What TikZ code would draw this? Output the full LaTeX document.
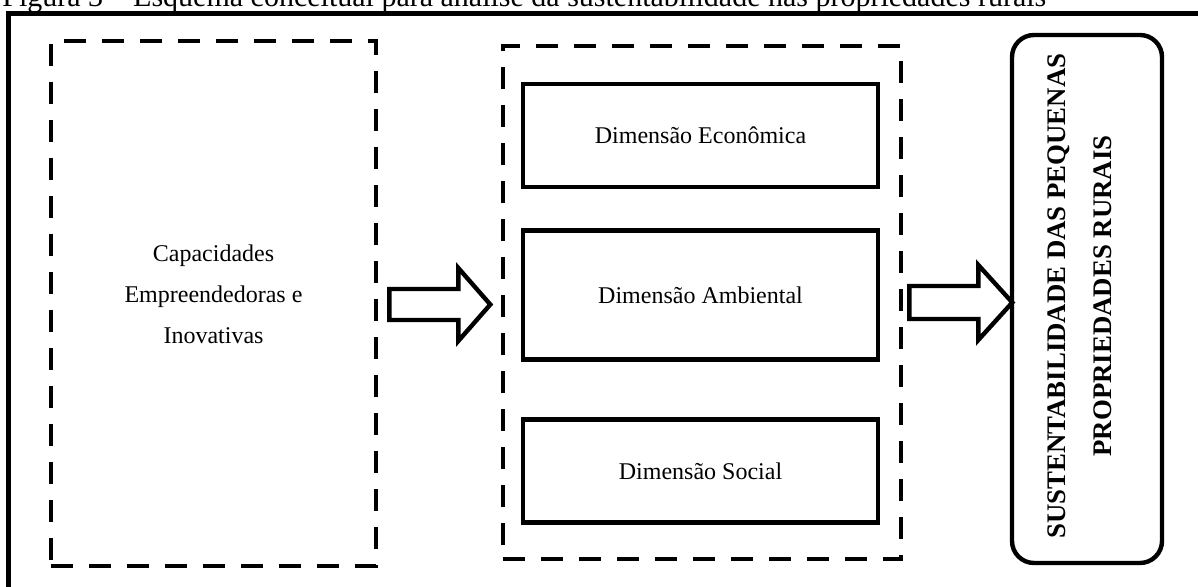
\documentclass[tikz,border=0pt]{standalone}
\usepackage{fontspec}
\setmainfont{Liberation Serif}
\usetikzlibrary{positioning,calc}

\begin{document}
\begin{tikzpicture}[
  x=0.5pt, y=-0.5pt,
  font=\fontsize{12}{20.5}\selectfont,
  frame/.style={line width=2.2pt},
  group/.style={draw, dash pattern=on 11pt off 8pt, line width=2.3pt, inner sep=0pt},
  dimbox/.style={draw, line width=2.2pt, minimum width=177.5pt, minimum height=51.5pt,
                 inner sep=0pt},
  sustbox/.style={draw, rounded corners=11pt, line width=2.2pt, minimum width=75pt,
                  minimum height=264pt, inner sep=0pt},
  blockarr/.style={draw, line width=2.2pt, line join=miter, fill=white},
  node distance=19.5pt]

\useasboundingbox (0,0) rectangle (1198,587);

% ---- caption (cut at the top) and frame ----
\node[anchor=base west, inner sep=0pt, font=\fontsize{15}{17}\selectfont] (titulo) at (2,6.5)
  {Figura 3 – Esquema conceitual para análise da sustentabilidade nas propriedades rurais};
\draw[frame] (8.5,587) -- (8.5,13.5) -- (1198,13.5);

% ---- left: capacities ----
\node[group, minimum width=162.5pt, minimum height=262.5pt] (capac) at (213.5,303.5) {};
\node[align=center] (capactxt) at (213.5,294) {Capacidades\\Empreendedoras e\\Inovativas};

% ---- middle: dimensions ----
\node[group, minimum width=199pt, minimum height=256.5pt] (dims) at (702,302.5) {};
\node[dimbox] (eco) at (700.5,135.5) {Dimensão Econômica};
\node[dimbox, minimum height=64.5pt, below=of eco] (amb) {Dimensão Ambiental};
\node[dimbox] (soc) at (700.5,471) {Dimensão Social};

% ---- right: result ----
\node[sustbox] (sust) at (1087,299) {};
\node[rotate=90, align=center, font=\bfseries\fontsize{13.4}{23}\selectfont] (susttxt)
  at ($(sust.center)+(-7,-3)$) {SUSTENTABILIDADE DAS PEQUENAS\\PROPRIEDADES RURAIS};

% ---- block arrows ----
\draw[blockarr] ($(capac.east)+(11,-14.5)$) -- ++(69,0) -- ++(0,-21) -- ++(32,36.5)
  -- ++(-32,36.5) -- ++(0,-21) -- ++(-69,0) -- cycle;
\draw[blockarr] ($(dims.east)+(6,-16.5)$) -- ++(69,0) -- ++(0,-21) -- ++(34,37.5)
  -- ++(-34,37.5) -- ++(0,-21) -- ++(-69,0) -- cycle;
\end{tikzpicture}
\end{document}
